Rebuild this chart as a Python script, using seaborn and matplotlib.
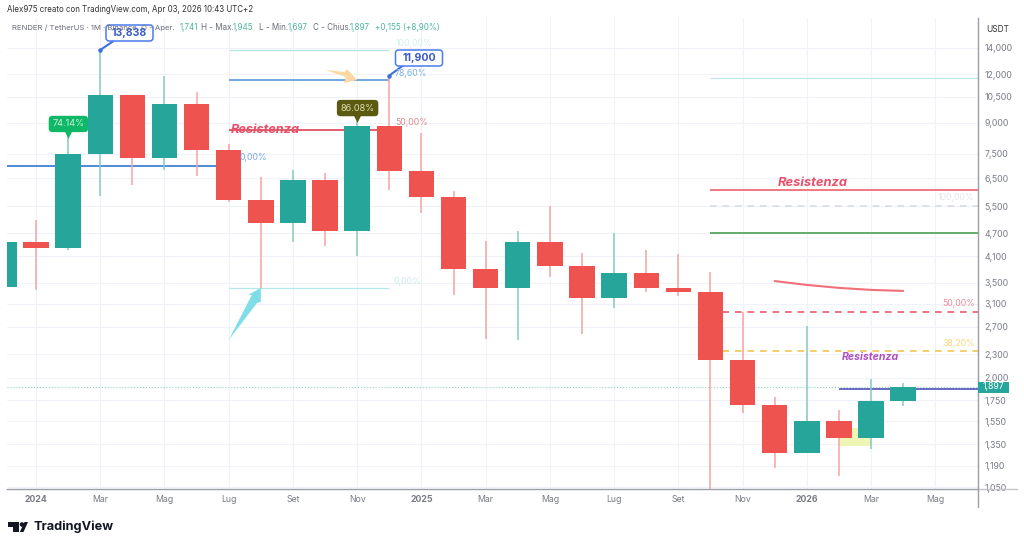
import matplotlib
matplotlib.use("Agg")
import matplotlib.pyplot as plt
from matplotlib.patches import Circle, FancyBboxPatch, Polygon, Rectangle
from matplotlib.ticker import NullLocator
import pandas as pd
import seaborn as sns

W, H = 1024, 547

# monthly candles, month 0 = Jan 2024
months = list(range(-1, 28))
opens = [3.42, 4.46, 4.30, 7.49, 10.61, 7.32, 10.06, 7.67, 5.71, 4.99, 6.43, 4.76, 8.84, 6.78,
         5.81, 3.80, 3.40, 4.46, 3.87, 3.20, 3.71, 3.40, 3.32, 2.22, 1.70, 1.285, 1.55, 1.40, 1.741]
closes = [4.46, 4.30, 7.49, 10.61, 7.32, 10.06, 7.67, 5.71, 4.99, 6.43, 4.76, 8.84, 6.78, 5.81,
          3.80, 3.40, 4.46, 3.87, 3.20, 3.71, 3.40, 3.32, 2.22, 1.70, 1.285, 1.55, 1.40, 1.741, 1.897]
highs = [4.60, 5.08, 8.28, 13.838, 10.61, 11.87, 10.80, 7.95, 6.54, 6.82, 6.70, 9.10, 11.90, 8.50,
         6.02, 4.48, 4.76, 5.51, 4.18, 4.70, 4.25, 4.15, 3.73, 2.95, 1.79, 2.72, 1.655, 1.99, 1.945]
lows = [3.30, 3.36, 4.25, 5.85, 6.24, 6.82, 6.58, 5.64, 3.40, 4.46, 4.35, 4.10, 6.06, 5.29,
        3.26, 2.51, 2.50, 3.63, 2.59, 3.02, 3.32, 3.24, 1.02, 1.625, 1.175, 1.285, 1.12, 1.315, 1.697]

price_ticks = [14, 12, 10.5, 9, 7.5, 6.5, 5.5, 4.7, 4.1, 3.5, 3.1, 2.7, 2.3, 2, 1.75, 1.55, 1.35, 1.19, 1.05]
price_labels = ["14,000", "12,000", "10,500", "9,000", "7,500", "6,500", "5,500", "4,700", "4,100", "3,500",
                "3,100", "2,700", "2,300", "2,000", "1,750", "1,550", "1,350", "1,190", "1,050"]
month_ticks = list(range(0, 30, 2))
month_labels = ["2024", "Mar", "Mag", "Lug", "Set", "Nov", "2025", "Mar", "Mag", "Lug", "Set", "Nov",
                "2026", "Mar", "Mag"]

# horizontal drawings on the chart
level_prices = [6.98, 13.82, 11.59, 8.63, 3.40, 11.70, 6.05, 4.70, 1.87]
level_start = [-1, 6, 6, 6, 6, 21, 21, 21, 25]
level_end = [6, 11, 11, 11, 11, 29.33, 29.33, 29.33, 29.33]
level_colors = ["#3f83d8", "#b5e6e6", "#4a90d9", "#e0505f", "#b5e8e8", "#b8e6ea", "#f0606c", "#4a9e52", "#5050b8"]
level_widths = [1.3, 0.9, 1.1, 1.3, 0.9, 0.8, 1.2, 1.2, 1.2]

dashed_prices = [5.50, 2.95, 2.34]
dashed_colors = ["#d8dde2", "#e85c6c", "#f0c850"]

curve_months = [23, 24, 25, 26, 27]
curve_prices = [3.54, 3.46, 3.40, 3.36, 3.34]

candles = pd.DataFrame({"month": months, "open": opens, "close": closes})
candles["bottom"] = candles[["open", "close"]].min(axis=1)
candles["height"] = (candles["close"] - candles["open"]).abs()
up = candles[candles["close"] >= candles["open"]]
down = candles[candles["close"] < candles["open"]]

GREEN = "#26a69a"
RED = "#ef5350"
GREY = "#787b86"
BLUE = "#3f6fe0"

sns.set_theme(style="white")
plt.rcParams["font.family"] = ["Inter", "DejaVu Sans"]

fig = plt.figure(figsize=(W / 100, H / 100), dpi=100, facecolor="white")
ax = fig.add_axes([7 / W, 1 - 489 / H, 971 / W, 471 / H])


def fx(x):
    return x / W


def fy(y):
    return 1 - y / H


# candle bodies
sns.barplot(data=up, x="month", y="height", bottom=up["bottom"], color=GREEN, saturation=1, native_scale=True,
            width=0.79, errorbar=None, linewidth=0, zorder=4, ax=ax)
sns.barplot(data=down, x="month", y="height", bottom=down["bottom"], color=RED, saturation=1, native_scale=True,
            width=0.79, errorbar=None, linewidth=0, zorder=4, ax=ax)

# wicks
for m, o, c, hi, lo in zip(months, opens, closes, highs, lows):
    ax.vlines(m, lo, hi, color="#84cbc1" if c >= o else "#f6a3a6", lw=1.1, zorder=3)

ax.set_yscale("log")
ax.set_xlim(-0.903, 29.33)
ax.set_ylim(1.038, 16.71)
ax.yaxis.set_minor_locator(NullLocator())
ax.set_xlabel("")
ax.set_ylabel("")

ax.yaxis.tick_right()
ax.set_yticks(price_ticks)
ax.set_yticklabels(price_labels, fontsize=6.3, color=GREY)
ax.set_xticks(month_ticks)
ax.set_xticklabels(month_labels, fontsize=6.3, color=GREY)
for lab in ax.get_xticklabels():
    if lab.get_text().startswith("20"):
        lab.set_fontweight("bold")
ax.tick_params(axis="y", length=0, pad=4.5)
ax.tick_params(axis="x", length=0, pad=4)
ax.grid(True, color="#eff2f8", lw=0.8)
ax.set_axisbelow(True)
for name, spine in ax.spines.items():
    spine.set_visible(name in ("right", "bottom"))
    spine.set_color("#9a9ea8")
    spine.set_linewidth(1)
fig.add_artist(plt.Line2D([fx(978), fx(1017)], [fy(489), fy(489)], color="#c4c6cc", lw=1))
fig.add_artist(plt.Line2D([fx(977.5), fx(977.5)], [fy(489), fy(507)], color="#9a9ea8", lw=1))

# last price
ax.axhline(1.897, color="#8fd0c5", lw=0.8, ls=":", zorder=2)

# levels
for p, s, e, col, lw in zip(level_prices, level_start, level_end, level_colors, level_widths):
    ax.hlines(p, s, e, color=col, lw=lw, zorder=2)
for p, col in zip(dashed_prices, dashed_colors):
    ax.hlines(p, 21, 29.33, color=col, lw=1.2, ls=(0, (4, 3.5)), zorder=2)
sns.lineplot(x=curve_months, y=curve_prices, color="#f0707a", lw=1.5, ax=ax, zorder=2)
ax.set_xlabel("")
ax.set_ylabel("")

# pale rectangle behind the March candle
ax.fill([25, 26, 26, 25], [1.49, 1.49, 1.34, 1.34], color="#eef5b5", lw=0, zorder=2)

# drawn arrows
ax.fill([6.0, 6.72, 6.60, 7.0, 7.0, 6.88], [2.50, 3.26, 3.26, 3.40, 3.13, 3.11], color="#7fdde8", lw=0, zorder=5)
ax.fill([9.0, 9.62, 9.68, 10.0, 9.59, 9.65], [12.30, 12.15, 12.37, 11.59, 11.39, 11.80], color="#fdd8a5", lw=0, zorder=5)

# callouts with the high values
for m, p, txt, off, box in [(2, 13.838, "13,838", (21.2, 12.2), (106, 25)), (11, 11.90, "11,900", (21.6, 13), (395.5, 50))]:
    ax.scatter([m], [p], s=5, color=BLUE, zorder=7)
    fig.add_artist(FancyBboxPatch((box[0], H - box[1] - 16), 47, 16, boxstyle="round,pad=0,rounding_size=3",
                                  fc="white", ec="#4a7bf0", lw=1.1, transform=None, zorder=5))
    ax.annotate("", xy=(m, p), xytext=(off[0] - 12, off[1] - 6), textcoords="offset points",
                arrowprops=dict(arrowstyle="-", color=BLUE, lw=1.5, shrinkA=0, shrinkB=0), zorder=7)
    fig.text(fx(box[0] + 23.5), fy(box[1] + 8), txt, fontsize=7.6, fontweight="bold", color="#3a5bc7", ha="center",
             va="center", zorder=6)

# percent flags
for m, tip, txt, face, fg, off in [(1, 8.43, "74.14%", "#0fb866", "#c8f0dc", (0.2, 7.2)),
                                   (10, 9.26, "86.08%", "#5c5a10", "#dcdcb0", (0.3, 7.2))]:
    ax.scatter([m], [tip], s=40, marker="v", color=face, lw=0, zorder=3.5)
    ax.annotate(txt, xy=(m, tip), xytext=off, textcoords="offset points", ha="center", va="center",
                fontsize=6.6, color=fg, zorder=3.5,
                bbox=dict(boxstyle="round,pad=0.4", fc=face, ec="none"))

# tag of the last price
ax.add_patch(Rectangle((29.33, 1.829), 0.96, 0.128, fc=GREEN, ec="none", clip_on=False, zorder=8))
ax.text(29.81, 1.897, "1,897", fontsize=6.3, color="white", va="center", ha="center", zorder=9)

# free text, placed by pixel
ptext = [
    (7, 10, "Alex975 creato con TradingView.com, Apr 03, 2026 10:43 UTC+2", "#333333", 5.7, "normal", "normal"),
    (986, 29, "USDT", "#333333", 6.0, "normal", "normal"),
    (12, 28, "RENDER / TetherUS · 1M · Binance  O - Aper.", "#6a6d78", 5.6, "normal", "normal"),
    (180, 28, "1,741", "#4fb5a0", 5.8, "normal", "normal"),
    (201, 28, "H - Max.", "#6a6d78", 5.8, "normal", "normal"),
    (233, 28, "1,945", "#4fb5a0", 5.8, "normal", "normal"),
    (259, 28, "L - Min.", "#6a6d78", 5.8, "normal", "normal"),
    (288, 28, "1,697", "#4fb5a0", 5.8, "normal", "normal"),
    (313, 28, "C - Chius.", "#6a6d78", 5.8, "normal", "normal"),
    (350, 28, "1,897", "#4fb5a0", 5.8, "normal", "normal"),
    (375, 28, "+0,155 (+8,90%)", "#4fb5a0", 5.8, "normal", "normal"),
    (231, 130, "Resistenza", "#e8506a", 9.2, "bold", "italic"),
    (778, 183, "Resistenza", "#e8506a", 9.3, "bold", "italic"),
    (842, 357, "Resistenza", "#b04fc0", 7.6, "bold", "italic"),
    (240, 157, "0,00%", "#7ea8e8", 6.3, "normal", "normal"),
    (396, 43, "100,00%", "#d5eeee", 6.3, "normal", "normal"),
    (395, 73, "78,60%", "#7fb0e0", 6.3, "normal", "normal"),
    (395, 123, "50,00%", "#e08a92", 6.3, "normal", "normal"),
    (394, 281, "0,00%", "#cdecec", 6.3, "normal", "normal"),
    (938, 198, "100,00%", "#e3e5ea", 6.3, "normal", "normal"),
    (942, 304, "50,00%", "#f08a9a", 6.3, "normal", "normal"),
    (942, 343, "38,20%", "#f5d87a", 6.3, "normal", "normal"),
    (33, 527, "TradingView", "#131722", 9.2, "bold", "normal"),
]
for x, y, txt, col, size, weight, style in ptext:
    fig.text(fx(x), fy(y), txt, color=col, fontsize=size, fontweight=weight, fontstyle=style, va="center", ha="left",
             zorder=9)

# TradingView logo
logo = [[(8, 522), (19, 522), (19, 532), (13, 532), (13, 527), (8, 527)],
        [(24.5, 522), (28, 522), (23.5, 532), (19.8, 532)]]
for shape in logo:
    fig.add_artist(Polygon([(fx(x), fy(y)) for x, y in shape], closed=True, fc="#131722", ec="none",
                           transform=fig.transFigure))
fig.add_artist(Circle((22, H - 524.5), 2.3, fc="#131722", ec="none", transform=None))

fig.savefig("out.png", dpi=100)
